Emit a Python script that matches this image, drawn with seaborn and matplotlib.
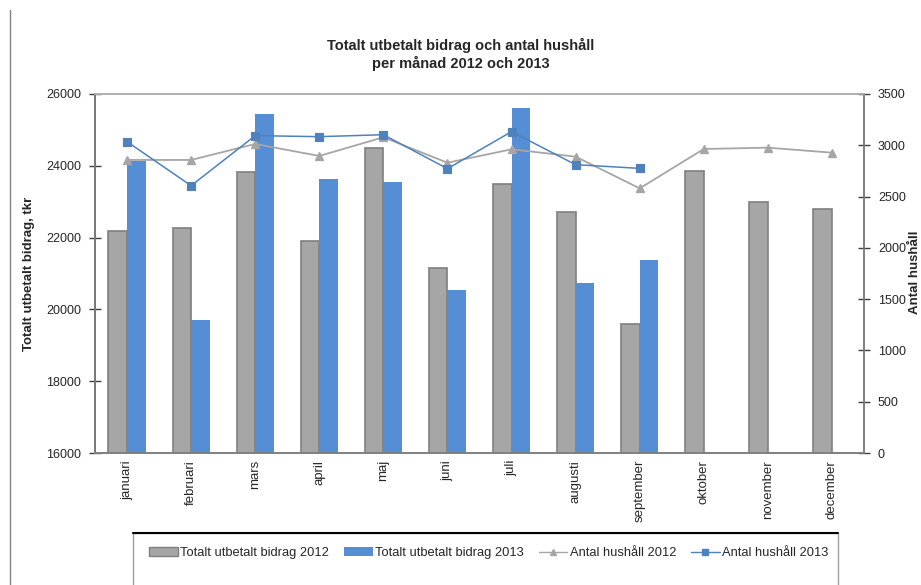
import matplotlib
matplotlib.use("Agg")
import matplotlib.pyplot as plt
from matplotlib.patches import Rectangle, Patch
from matplotlib.lines import Line2D
import numpy as np
import pandas as pd
import seaborn as sns

months = ["januari", "februari", "mars", "april", "maj", "juni", "juli",
          "augusti", "september", "oktober", "november", "december"]
bidrag_2012 = [22180, 22270, 23830, 21910, 24500, 21150, 23490, 22710, 19590, 23855, 22990, 22800]
bidrag_2013 = [24130, 19700, 25440, 23630, 23550, 20540, 25610, 20735, 21380, np.nan, np.nan, np.nan]
hushall_2012 = [2857, 2857, 3013, 2896, 3078, 2830, 2961, 2889, 2580, 2964, 2977, 2928]
hushall_2013 = [3035, 2606, 3094, 3084, 3103, 2772, 3133, 2811, 2775, np.nan, np.nan, np.nan]

lab_b12 = "Totalt utbetalt bidrag 2012"
lab_b13 = "Totalt utbetalt bidrag 2013"
lab_h12 = "Antal hushåll 2012"
lab_h13 = "Antal hushåll 2013"

sns.set_theme(style="white")
plt.rcParams['font.family'] = ['Liberation Sans', 'DejaVu Sans']

gray = "#a6a6a6"
gray_edge = "#7f7f7f"
blue = "#558ed5"
line_gray = "#a6a6a6"
line_blue = "#4f81bd"

bars = pd.DataFrame({
    "month": months * 2,
    "value": bidrag_2012 + bidrag_2013,
    "series": [lab_b12] * 12 + [lab_b13] * 12,
})
lines = pd.DataFrame({
    "month": months * 2,
    "value": hushall_2012 + hushall_2013,
    "series": [lab_h12] * 12 + [lab_h13] * 12,
})

fig = plt.figure(figsize=(9.21, 5.85), dpi=100)
ax = fig.add_axes([95 / 921, 1 - 453 / 585, (864 - 95) / 921, (453 - 94) / 585])

sns.barplot(data=bars, x="month", y="value", hue="series", order=months,
            hue_order=[lab_b12, lab_b13], palette=[gray, blue], width=0.58,
            gap=0, ax=ax, legend=False, saturation=1, errorbar=None)
for i, p in enumerate(ax.patches):
    if i < 12:
        p.set_edgecolor(gray_edge)
        p.set_linewidth(1.2)
    else:
        p.set_edgecolor("none")

ax.set_ylim(16000, 26000)
ax.set_yticks(np.arange(16000, 26001, 2000))
ax.set_xlim(-0.5, 11.5)
ax.set_xlabel("")
ax.set_ylabel("Totalt utbetalt bidrag, tkr", fontsize=9.5, fontweight="bold", labelpad=8)
ax.tick_params(axis="x", labelrotation=90, labelsize=9.5, length=0, pad=5)
ax.tick_params(axis="y", labelsize=9, direction="inout", length=8, width=1, color="#404040", left=True, pad=6)

ax2 = ax.twinx()
sns.pointplot(data=lines[lines.series == lab_h12], x="month", y="value", order=months,
              color=line_gray, marker="^", markersize=6, linewidth=1.3, ax=ax2, errorbar=None)
sns.pointplot(data=lines[lines.series == lab_h13], x="month", y="value", order=months,
              color=line_blue, marker="s", markersize=6, linewidth=1.1, ax=ax2, errorbar=None)
ax2.set_ylim(0, 3500)
ax2.set_yticks(np.arange(0, 3501, 500))
ax2.set_xlim(-0.5, 11.5)
ax2.set_ylabel("")
ax2.set_xlabel("")
ax2.tick_params(axis="y", labelsize=9, direction="inout", length=8, width=1, color="#404040", right=True, pad=6)

for a in (ax, ax2):
    for s in a.spines.values():
        s.set_color("#808080")
        s.set_linewidth(1.2)
ax.spines["left"].set_color("#404040")
ax.spines["top"].set_color("#b0b0b0")
ax2.spines["top"].set_color("#b0b0b0")

fig.text(0.5, 1 - 45 / 585, "Totalt utbetalt bidrag och antal hushåll", ha="center", va="center",
         fontsize=10.5, fontweight="bold")
fig.text(0.5, 1 - 63 / 585, "per månad 2012 och 2013", ha="center", va="center",
         fontsize=10.5, fontweight="bold")
fig.text(0.9995, 1 - 272 / 585, "Antal hushåll", rotation=90, ha="right", va="center",
         fontsize=9.5, fontweight="bold")

# decorative frame lines
fig.add_artist(Line2D([10 / 921, 10 / 921], [0, 1 - 10 / 585], transform=fig.transFigure,
                      color="#808080", linewidth=1))
fig.add_artist(Rectangle((133 / 921, -0.05), (838 - 133) / 921, 0.05 + (585 - 533) / 585,
                         transform=fig.transFigure, facecolor="none", edgecolor="#a0a0a0", linewidth=1))
fig.add_artist(Line2D([133 / 921, 838 / 921], [1 - 533 / 585, 1 - 533 / 585], transform=fig.transFigure,
                      color="black", linewidth=1.5))

handles = [
    Patch(facecolor=gray, edgecolor=gray_edge, label=lab_b12),
    Patch(facecolor=blue, edgecolor="none", label=lab_b13),
    Line2D([], [], color=line_gray, marker="^", markersize=4, linewidth=1, label=lab_h12),
    Line2D([], [], color=line_blue, marker="s", markersize=4, linewidth=1, label=lab_h13),
]
fig.legend(handles=handles, loc="center", bbox_to_anchor=(489 / 921, 1 - 553 / 585), ncol=4,
           frameon=False, fontsize=9.3, handlelength=2.2, handleheight=0.6, handletextpad=0.2,
           columnspacing=1.15)

fig.savefig("out.png", dpi=100)
